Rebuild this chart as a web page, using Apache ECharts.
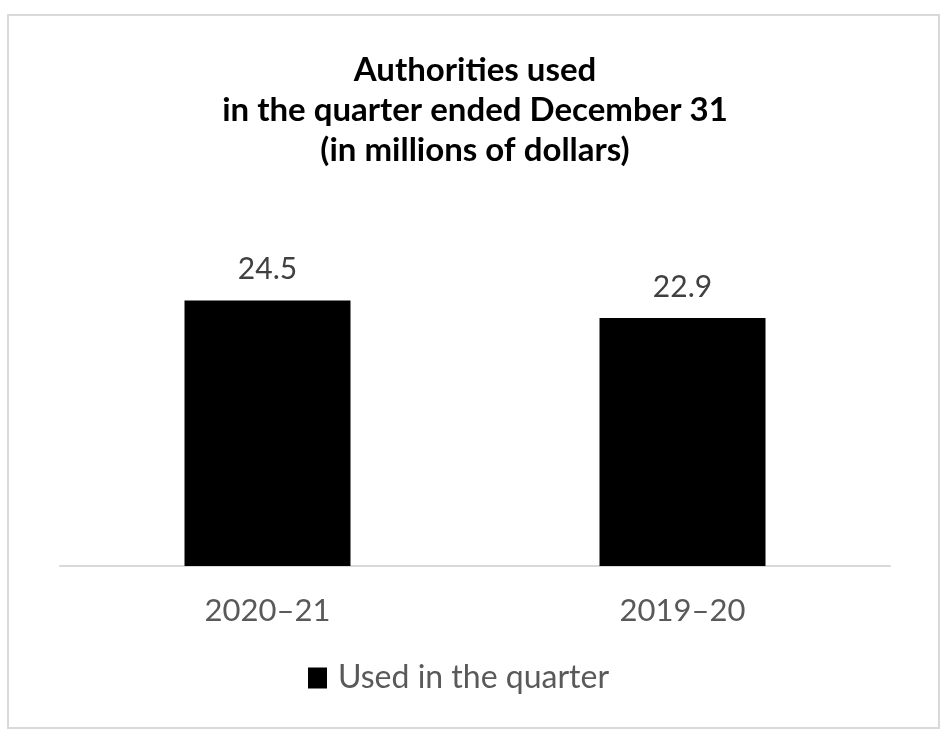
<!DOCTYPE html>
<html>
<head>
<meta charset="utf-8">
<script src="https://cdn.jsdelivr.net/npm/echarts@6/dist/echarts.min.js"></script>
<style>
html,body{margin:0;padding:0;background:#fff;}
#c{width:950px;height:750px;}
</style>
</head>
<body>
<div id="c"></div>
<script>
const titleLines = ['Authorities used', 'in the quarter ended December 31', '(in millions of dollars)'];
const categories = ['2020–21', '2019–20'];
const seriesName = 'Used in the quarter';
const usedValues = [24.5, 22.9];

const chart = echarts.init(document.getElementById('c'));
const FONT = 'Lato';
chart.setOption({
  animation: false,
  backgroundColor: '#ffffff',
  graphic: [{
    type: 'rect',
    shape: { x: 8, y: 15, width: 931, height: 713 },
    style: { fill: 'none', stroke: '#d9d9d9', lineWidth: 2 },
    silent: true
  }],
  title: {
    text: titleLines.join('\n'),
    left: 'center',
    top: 45,
    textStyle: { fontFamily: FONT, fontWeight: 'bold', fontSize: 33, lineHeight: 40, color: '#000' }
  },
  legend: {
    data: [seriesName],
    bottom: 51,
    left: 303,
    icon: 'rect',
    itemWidth: 19,
    itemHeight: 21,
    textStyle: { fontFamily: FONT, fontSize: 32, color: '#595959', padding: [0, 0, 0, 6] }
  },
  grid: { left: 60, right: 60, top: 241, bottom: 184, containLabel: false },
  xAxis: {
    type: 'category',
    data: categories,
    axisLine: { lineStyle: { color: '#d9d9d9', width: 2 } },
    axisTick: { show: false },
    axisLabel: { fontFamily: FONT, fontSize: 31, color: '#595959', margin: 29 }
  },
  yAxis: { type: 'value', min: 0, max: 30, show: false, splitLine: { show: false } },
  series: [{
    name: seriesName,
    type: 'bar',
    data: usedValues,
    barWidth: '40%',
    itemStyle: { color: '#000' },
    label: { show: true, position: 'top', distance: 16, fontFamily: FONT, fontSize: 30, color: '#404040' }
  }]
});
</script>
</body>
</html>
